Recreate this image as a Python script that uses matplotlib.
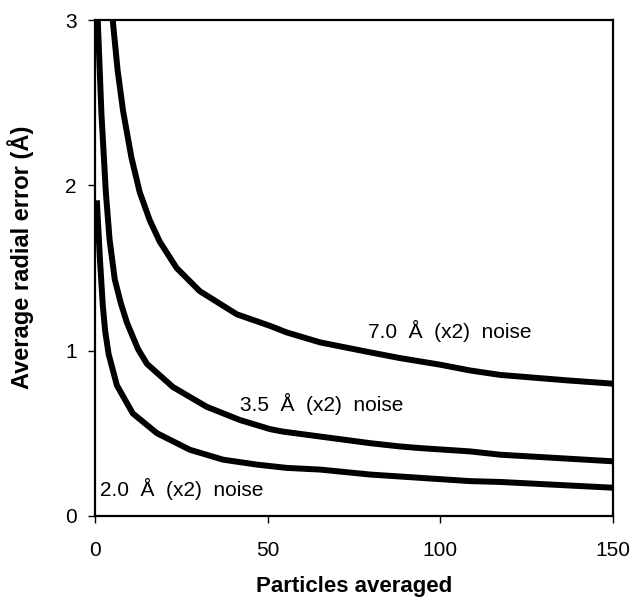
import matplotlib.pyplot as plt

plt.rcParams['font.family'] = ['Liberation Sans', 'DejaVu Sans']

# readings: particles averaged vs average radial error (Å)
x_70 = [5.2, 6.6, 8.2, 10.6, 13.0, 15.9, 18.8, 23.7, 30.4, 41.1, 50.7, 55.6, 65.2, 79.6, 88.3, 99.9, 108.6, 117.3, 136.7, 150]
y_70 = [3.0, 2.7, 2.45, 2.17, 1.96, 1.79, 1.66, 1.50, 1.36, 1.22, 1.15, 1.11, 1.05, 0.99, 0.955, 0.915, 0.88, 0.853, 0.82, 0.80]

x_35 = [0.87, 1.94, 3.2, 4.3, 5.8, 7.5, 9.3, 12.5, 15.1, 22.6, 32.4, 42.0, 50.7, 54.4, 65.2, 79.6, 88.3, 94.1, 108.6, 117.3, 150]
y_35 = [3.0, 2.43, 1.96, 1.67, 1.43, 1.29, 1.17, 1.01, 0.92, 0.78, 0.66, 0.58, 0.525, 0.51, 0.48, 0.44, 0.42, 0.41, 0.39, 0.37, 0.33]

x_20 = [0.6, 1.45, 2.3, 3.0, 4.0, 6.4, 11.0, 18.0, 27.5, 37.1, 46.9, 55.6, 65.2, 79.6, 94.1, 108.6, 117.3, 150]
y_20 = [1.91, 1.57, 1.28, 1.12, 0.98, 0.79, 0.62, 0.50, 0.40, 0.34, 0.31, 0.29, 0.28, 0.25, 0.23, 0.21, 0.205, 0.17]

series = [
    (x_70, y_70, '7.0  Å  (x2)  noise', (79, 1.12)),
    (x_35, y_35, '3.5  Å  (x2)  noise', (42, 0.68)),
    (x_20, y_20, '2.0  Å  (x2)  noise', (1.5, 0.16)),
]

x_ticks = [0, 50, 100, 150]
y_ticks = [0, 1, 2, 3]

fig = plt.figure(figsize=(6.36, 5.97), dpi=100)
ax = fig.add_axes([0.149, 0.136, 0.815, 0.830])

for xs, ys, label, pos in series:
    ax.plot(xs, ys, color='black', lw=4.3, solid_capstyle='butt', solid_joinstyle='round')
    ax.text(pos[0], pos[1], label, fontsize=15, va='center', ha='left')

ax.set_xlim(0, 150)
ax.set_ylim(0, 3)
ax.set_xticks(x_ticks)
ax.set_yticks(y_ticks)
ax.tick_params(labelsize=15, direction='out', length=5, width=1)
ax.tick_params(axis='x', pad=13)
ax.tick_params(axis='y', pad=8)
for sp in ax.spines.values():
    sp.set_linewidth(1.6)

ax.set_xlabel('Particles averaged', fontsize=16, fontweight='bold', labelpad=12)
ax.set_ylabel('Average radial error (Å)', fontsize=17, fontweight='bold')
ax.yaxis.set_label_coords(-0.118, 0.522)

fig.savefig('out.png', dpi=100)
